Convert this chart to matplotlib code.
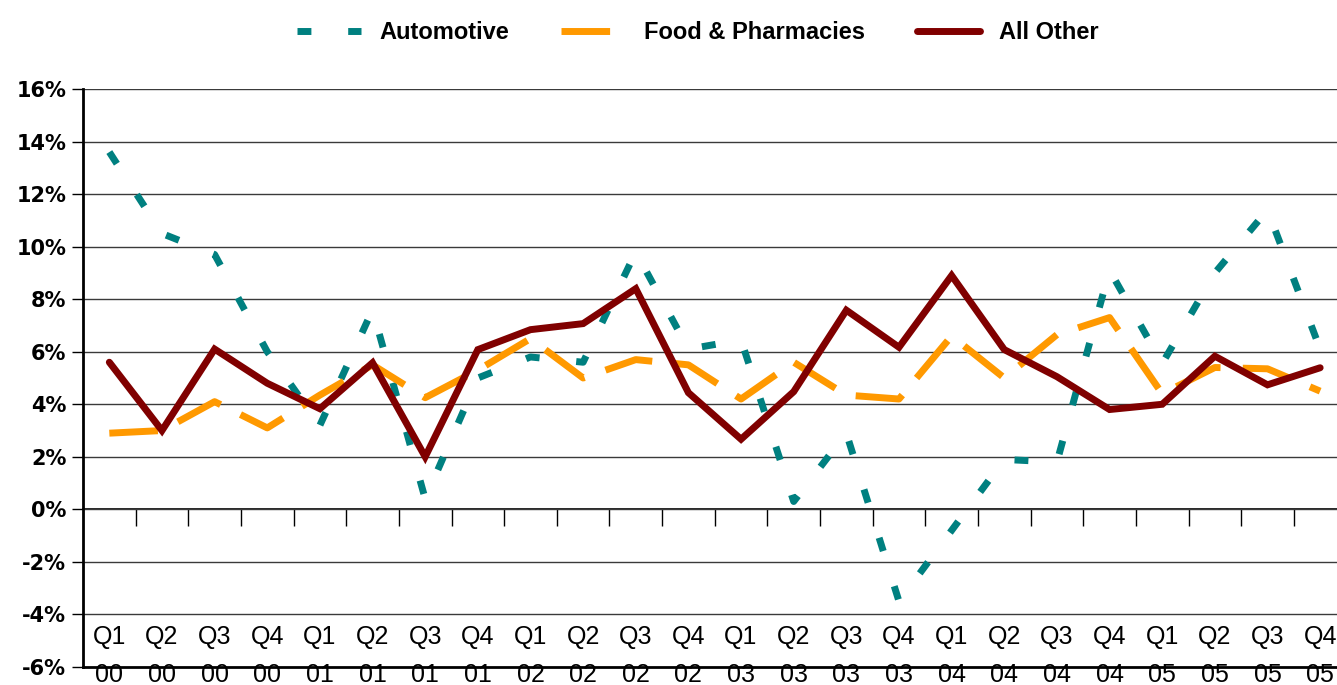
import matplotlib
matplotlib.use("Agg")
import matplotlib.pyplot as plt
import numpy as np

quarters = ["Q1", "Q2", "Q3", "Q4"] * 6
years = ["00"] * 4 + ["01"] * 4 + ["02"] * 4 + ["03"] * 4 + ["04"] * 4 + ["05"] * 4

automotive = [13.6, 10.5, 9.7, 6.0, 3.2, 7.6, 0.4, 5.0, 5.8, 5.6, 9.8, 6.1,
              6.45, 0.3, 2.9, -3.5, -0.8, 1.9, 1.8, 9.1, 5.55, 9.0, 11.4, 6.1]
food_pharm = [2.9, 3.0, 4.1, 3.1, 4.35, 5.5, 4.25, 5.3, 6.5, 5.0, 5.7, 5.5,
              4.2, 5.6, 4.35, 4.2, 6.6, 5.0, 6.65, 7.3, 4.4, 5.4, 5.35, 4.5]
all_other = [5.6, 3.0, 6.1, 4.8, 3.83, 5.58, 2.0, 6.08, 6.84, 7.07, 8.4, 4.44,
             2.67, 4.48, 7.58, 6.17, 8.9, 6.08, 5.05, 3.8, 4.0, 5.83, 4.74, 5.39]

y_ticks = [-6, -4, -2, 0, 2, 4, 6, 8, 10, 12, 14, 16]

fig = plt.figure(figsize=(13.37, 6.85), dpi=100)
ax = fig.add_axes([83 / 1337, 18 / 685, (1337 - 83) / 1337, 578 / 685])

x = np.arange(len(quarters))

ax.plot(x, automotive, color="#008080", lw=5, dashes=(2, 5.3), label="Automotive", zorder=3)
ax.plot(x, food_pharm, color="#FF9900", lw=5, dashes=(7, 3.2), label="Food & Pharmacies", zorder=4)
ax.plot(x, all_other, color="#800000", lw=5, solid_capstyle="round", solid_joinstyle="miter",
        label="All Other", zorder=5)

ax.set_xlim(-0.5, 23.32)
ax.set_ylim(-6, 16)

for v in y_ticks[1:]:
    ax.axhline(v, color="#3a3a3a", lw=1, zorder=1)

ax.set_yticks(y_ticks)
ax.set_yticklabels(["%d%%" % v for v in y_ticks], fontsize=15, fontweight="bold")
ax.tick_params(axis="y", direction="out", length=8, width=1, pad=4)

ax.set_xticks([])
for s in ["top", "right"]:
    ax.spines[s].set_visible(False)
ax.spines["left"].set_linewidth(2)
ax.spines["bottom"].set_linewidth(2)

# category axis crossing at 0%
sec = ax.secondary_xaxis(6 / 22)
sec.set_xticks(np.arange(0.5, 23.5, 1))
sec.set_xticklabels([])
sec.tick_params(direction="out", length=12, width=1)
sec.spines["bottom"].set_linewidth(1.2)

for i in x:
    ax.text(i, -4.85, quarters[i], ha="center", va="center", fontsize=18, family="Liberation Sans")
    ax.text(i, -6.3, years[i], ha="center", va="center", fontsize=18, family="Liberation Sans")

fig.legend(loc="upper center", bbox_to_anchor=(0.522, 1.0), ncol=3, frameon=False,
           prop={"family": "Liberation Sans", "weight": "bold", "size": 17},
           handlelength=2.7, columnspacing=2.2, handletextpad=0.8)

fig.savefig("out.png", dpi=100)
